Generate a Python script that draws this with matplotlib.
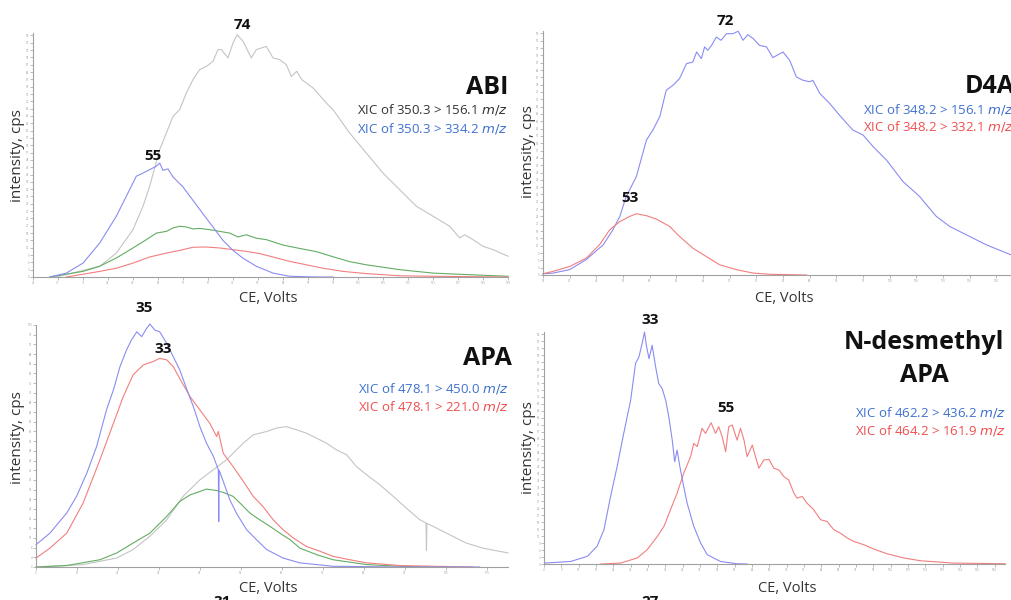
import numpy as np
import matplotlib
matplotlib.use("Agg")
import matplotlib.pyplot as plt

plt.rcParams['font.family'] = ['Open Sans', 'DejaVu Sans']

W, H = 1011, 600

# ---------------- data (CE in V, intensity in % of panel full scale) ----------
# Panel ABI
abi_grey_x = [30.6, 41, 45, 49, 51.4, 53, 55.4, 57, 58.6, 60.2, 61.8, 63.4, 65, 66.6, 68.2, 69.4, 70.2,
              71.8, 73, 74, 75.4, 77.4, 78.6, 81, 82.6, 84.2, 85.8, 87, 88.3, 89.5, 92.2, 95.4, 97, 101,
              105, 109, 113, 117, 121, 125, 127.4, 128.6, 130.6, 133, 135.4, 139]
abi_grey_y = [0, 4.4, 9.8, 19.4, 29, 37.2, 52.2, 59, 65.8, 68.6, 75.4, 80.9, 85, 86.3, 88.4, 93.2, 93.2,
              89.8, 95.9, 99.3, 96.6, 89.8, 93.2, 94.5, 89.8, 89.1, 87, 82.2, 84.3, 80.9, 77.5, 71.3, 68.6,
              59, 50.8, 42.6, 35.8, 29, 24.9, 20.8, 16, 17.3, 15.3, 12.6, 11.2, 8.5]
abi_blue_x = [29, 33, 37, 41, 45, 47.4, 49.8, 51.4, 53, 54.6, 55.4, 56.2, 57.4, 58.6, 61, 63.4, 65.8,
              68.2, 70.6, 73, 75.4, 78.6, 82.6, 86.6, 93, 97]
abi_blue_y = [0, 1.6, 5.7, 13.9, 24.9, 33.1, 41.3, 42.6, 44, 45.4, 46.7, 43.7, 44.3, 41, 36.9, 31.4, 25.9,
              20.5, 15, 10.9, 7.7, 4.4, 1.6, 0.3, 0, 0]
abi_green_x = [29, 37, 41, 45, 49, 52.2, 54.6, 57, 58.6, 60.2, 61.8, 63.4, 65, 67.4, 69.8, 72.2, 74.2,
               76.2, 78.6, 81, 85, 89, 93, 97, 101, 105, 113, 121, 129, 139]
abi_green_y = [0, 2.3, 4.4, 7.8, 11.9, 15.3, 18, 18.7, 20.1, 20.8, 20.5, 19.7, 19.9, 19.4, 18.7, 18, 16.4,
               17.3, 15.9, 15.3, 13.1, 11.7, 10.4, 8.3, 6.3, 5, 3, 1.6, 1, 0.3]
abi_red_x = [33, 41, 45, 49, 53, 57, 60.2, 63.4, 66.6, 69.8, 73, 76.2, 79.4, 82.6, 86.6, 90.6, 94.6,
             99.4, 105, 113, 121, 139]
abi_red_y = [0, 2.3, 3.6, 5.7, 8.2, 9.8, 10.9, 12.2, 12.3, 11.9, 11.2, 10.5, 9.6, 8.2, 6.4, 5, 3.6,
             2.3, 1.4, 0.5, 0.3, 0]

# Panel D4A
d4a_blue_x = [35.5, 37.4, 40.5, 43.6, 46.8, 48.6, 49.9, 51.1, 53, 54.9, 56.1, 57.4, 58.6, 59.9, 61.1,
              62.4, 63.6, 64.3, 65.2, 65.8, 66.4, 67.1, 68, 68.9, 69.9, 71.1, 72.1, 73, 73.9, 74.9, 76.1,
              77.4, 78.6, 80.5, 81.75, 83, 84.25, 85.5, 86.1, 87.4, 89.25, 91.1, 93.6, 95.5, 97.4, 99.9,
              103, 106.1, 109.25, 111.75, 115.5, 118.6, 123.2, 124]
d4a_blue_y = [0.5, 0.8, 2.2, 6.3, 12.4, 18.5, 24, 32.2, 40.3, 55.3, 59.4, 64.9, 75.7, 77.8, 80.5,
              86.6, 87.3, 91.4, 88.7, 93.5, 92.1, 94.1, 97.5, 96.2, 98.9, 98.9, 99.9, 96.2, 98.5, 96.9, 94.1,
              93.5, 89.1, 91.4, 88, 81.2, 79.8, 79.2, 79.8, 74.4, 70.3, 65.5, 59.4, 57.4, 52.6, 47.1,
              38.3, 32.2, 24, 19.9, 15.8, 12.4, 8.3, 7.8]
d4a_red_x = [35.5, 37.4, 40.5, 43.6, 46.1, 48, 49.9, 51.75, 53, 54.9, 56.75, 59.25, 61.1, 63.6, 66.1,
             68.6, 71.75, 74.9, 78, 84.9]
d4a_red_y = [0.5, 1.5, 3.5, 6.9, 12.4, 18.5, 21.9, 24, 25.1, 24.3, 22.9, 19.9, 15.8, 11, 7.6,
             4.2, 2.2, 0.8, 0.3, 0]

# Panel APA
apa_blue_x = [5, 8.4, 12.5, 14.9, 17.4, 19.8, 22.2, 23.9, 25.5, 27.1, 28.3, 29.6, 30.8, 32, 32.8, 34,
              35.2, 36.9, 38.5, 40.1, 41.7, 43.4, 45, 46.6, 48.3, 49.5, 49.6, 49.7, 50.7, 52.3, 53.9,
              56.4, 58.8, 61.3, 65.3, 69.4, 77.5, 93.8, 113.3]
apa_blue_y = [9.2, 14, 22.3, 29.2, 38.8, 49.8, 64.9, 73.2, 82.8, 89.7, 93.8, 97.2, 95.2, 98.6, 100.4,
              97.9, 97.2, 92.4, 86.9, 81.4, 73.9, 66.3, 58, 51.2, 45.7, 40.2, 18.8, 40.0, 35.4, 27.8,
              22.3, 15.4, 11.3, 7.2, 3.7, 1.7, 0.3, 0, 0]
apa_red_x = [5, 8.4, 12.5, 16.5, 20.6, 23.9, 26.3, 28.7, 31.2, 33.6, 35.2, 36.9, 38.5, 40.5, 42.6, 45,
             47.4, 49.1, 49.5, 50.7, 53.1, 55.6, 58, 60.4, 62.9, 65.3, 67.8, 71, 74.3, 77.5, 81.6,
             85.7, 93.8, 101.9, 111.7]
apa_red_y = [3.7, 7.8, 14, 26.4, 44.3, 59.4, 70.4, 79.4, 83.5, 84.9, 86.2, 85.6, 82.8, 76.6, 70.4,
             64.9, 59.4, 53.9, 56, 47, 41.5, 35.4, 29.2, 25, 19.5, 15.4, 12, 8.5, 6.5, 4.4, 3, 1.7,
             0.6, 0.3, 0]
apa_green_x = [5, 12.5, 20.6, 24.7, 28.7, 32.8, 36.9, 40.1, 42.6, 45, 46.6, 49.1, 50.7, 53.1, 54.8,
               57.2, 59.6, 62.1, 64.5, 67, 69.4, 73.5, 77.5, 85.7, 93.8, 101.9]
apa_green_y = [0, 0.6, 3, 5.8, 9.9, 14, 20.9, 27.1, 29.8, 31.2, 32.2, 31.6, 30.8, 29.2, 26.4, 22.3,
               19.5, 16.8, 14, 11.3, 7.8, 5.1, 3, 1, 0.3, 0]
apa_grey_x = [5, 16.5, 24.7, 28.7, 32.8, 36.9, 40.9, 45, 48.3, 51.5, 53.1, 55.6, 58, 61.3, 63.7, 66.1,
              68.6, 71, 73.5, 75.9, 78.3, 80.8, 83.2, 85.7, 88.9, 92.2, 95.4, 98.7, 100.2, 100.3,
              100.4, 101.9, 106, 110, 114.1, 120.2]
apa_grey_y = [0, 1, 3.7, 7.2, 12.7, 19.5, 29.2, 36, 40.2, 44.3, 47, 51.2, 54.6, 56, 57.4, 58, 56.7,
              55.3, 53.2, 51.2, 48.4, 46.4, 41.5, 38.1, 34, 29.2, 24.3, 19.5, 18.2, 6.9, 18.0, 16.8,
              13.3, 9.9, 7.8, 5.8]

# Panel N-desmethyl APA
nd_blue_x = [4.2, 11.7, 16.5, 19.3, 21.3, 23.2, 25.1, 27, 29, 30.4, 31.4, 32.3, 33, 33.6, 34.3, 35.2,
             36.2, 37.1, 38.1, 39.1, 40, 41, 41.7, 42.4, 43.2, 44.3, 45.3, 47.2, 49.2, 51.1, 54.9,
             59.7, 62.6]
nd_blue_y = [0.4, 1.1, 3.3, 7.6, 14.8, 29.1, 42, 56.3, 70.6, 86.4, 89.3, 95, 100, 93.6, 88.5, 94.3,
             85, 77.8, 75.6, 70.6, 63.5, 53.4, 44.1, 49.1, 42, 33.4, 26.2, 16.3, 9, 4, 1.1, 0.1, 0]
nd_red_x = [20.3, 26.1, 30.9, 33.8, 36.7, 38.6, 40.5, 42.4, 44.3, 46.3, 47.2, 48.2, 49.6, 50.6, 52.2,
            53.5, 54.4, 55.4, 56.4, 57.3, 58.3, 59.7, 60.7, 61.7, 62.6, 64.1, 65, 66, 67.4, 68.9,
            70.3, 71.8, 73.2, 74.6, 76.1, 77, 78.5, 79.9, 81.8, 83.8, 85.7, 87.6, 89.5, 91.5, 93.4,
            96.3, 99.2, 103, 107.8, 112.6, 122.2, 137]
nd_red_y = [0, 0.4, 2.6, 6.2, 11.9, 16.2, 23.4, 30.5, 39.1, 46.3, 52, 50.6, 58.5, 56.3, 60.9, 56.3,
            59.2, 54.9, 48.4, 59.2, 59.9, 53.4, 58.5, 53.4, 46.3, 51.3, 46.3, 41.3, 44.8, 45.1, 41.3,
            40.5, 37.7, 36.2, 30.5, 28.4, 29.1, 26.2, 23.4, 19.1, 18.3, 14.8, 13.3, 11.2, 9.7, 8.3,
            6.4, 4.4, 2.6, 1.4, 0.4, 0.1]

panel_names = ["ABI", "D4A", "APA", "N-desmethyl\nAPA"]
abi_xic = ["XIC of 350.3 > 156.1 ", "XIC of 350.3 > 334.2 "]
d4a_xic = ["XIC of 348.2 > 156.1 ", "XIC of 348.2 > 332.1 "]
apa_xic = ["XIC of 478.1 > 450.0 ", "XIC of 478.1 > 221.0 "]
nd_xic = ["XIC of 462.2 > 436.2 ", "XIC of 464.2 > 161.9 "]
abi_peaks = ["74", "55"]
d4a_peaks = ["72", "53"]
apa_peaks = ["35", "33"]
nd_peaks = ["33", "55"]

# ---------------- styling ----------------
C_BLUE = '#8a8cf2'
C_RED = '#f27e7e'
C_GREEN = '#63ad63'
C_GREY = '#c4c4c4'
T_BLUE = '#3f70d0'
T_RED = '#f04f4f'
T_DARK = '#333333'

fig = plt.figure(figsize=(W / 100, H / 100), dpi=100)


def px_axes(l, t, r, b):
    return fig.add_axes([l / W, 1 - b / H, (r - l) / W, (b - t) / H])


def fx(x):
    return x / W


def fy(y):
    return 1 - y / H


def style(ax, xlim, xstep, ystep):
    ax.set_xlim(*xlim)
    ax.set_ylim(0, 100)
    for s in ('top', 'right'):
        ax.spines[s].set_visible(False)
    for s in ('left', 'bottom'):
        ax.spines[s].set_color('#a0a0a0')
        ax.spines[s].set_linewidth(0.8)
    ax.set_xticks(np.arange(xlim[0], xlim[1] + 0.01, xstep))
    ax.set_yticks(np.arange(0, 100.01, ystep))
    ax.xaxis.set_major_formatter(matplotlib.ticker.FuncFormatter(lambda v, p: f"{v:.0f}"))
    ax.yaxis.set_major_formatter(matplotlib.ticker.FuncFormatter(lambda v, p: f"{v:.0f}"))
    ax.tick_params(length=2, width=0.5, color='#a0a0a0', labelsize=2, labelcolor='#9a9a9a', pad=0.8)
    ax.set_facecolor('none')


def line(ax, x, y, c):
    ax.plot(x, y, color=c, lw=0.8, clip_on=False, solid_joinstyle='round')


def peak(ax, x, y, s):
    ax.text(x, y, s, ha='center', va='center', fontsize=11, fontweight='bold', color='#111111',
            clip_on=False)


def axis_labels(xl, yl):
    fig.text(fx(xl[0]), fy(xl[1]), "CE, Volts", ha='center', va='center', fontsize=10.5, color='#333333')
    fig.text(fx(yl[0]), fy(yl[1]), "intensity, cps", ha='center', va='center', rotation=90,
             fontsize=11, color='#333333')


def xic(x, y, s, c, ha):
    fig.text(fx(x), fy(y), s + r"$\it{m/z}$", ha=ha, va='baseline', fontsize=9.5, color=c)


# Panel 1 : ABI
ax1 = px_axes(33, 33, 508, 277)
style(ax1, (25, 139), 6, 3)
line(ax1, abi_grey_x, abi_grey_y, C_GREY)
line(ax1, abi_green_x, abi_green_y, C_GREEN)
line(ax1, abi_red_x, abi_red_y, C_RED)
line(ax1, abi_blue_x, abi_blue_y, C_BLUE)
peak(ax1, 75.2, 103.4, abi_peaks[0])
peak(ax1, 53.8, 49.5, abi_peaks[1])
fig.text(fx(508), fy(94), panel_names[0], ha='right', va='baseline', fontsize=18, fontweight='bold', color='#111111')
xic(508, 114, abi_xic[0], T_DARK, 'right')
xic(508, 133, abi_xic[1], T_BLUE, 'right')
axis_labels((268, 299), (18, 156))

# Panel 2 : D4A
ax2 = px_axes(543, 31, 1015, 275)
style(ax2, (35.5, 124), 5, 3)
line(ax2, d4a_blue_x, d4a_blue_y, C_BLUE)
line(ax2, d4a_red_x, d4a_red_y, C_RED)
peak(ax2, 69.7, 104, d4a_peaks[0])
peak(ax2, 51.9, 31.7, d4a_peaks[1])
fig.text(fx(965), fy(93), panel_names[1], ha='left', va='baseline', fontsize=18, fontweight='bold', color='#111111')
xic(863, 114, d4a_xic[0], T_BLUE, 'left')
xic(863, 131, d4a_xic[1], T_RED, 'left')
axis_labels((784, 299), (528, 152))

# Panel 3 : APA
ax3 = px_axes(36, 325, 508, 567)
style(ax3, (5, 120.2), 10, 4)
line(ax3, apa_grey_x, apa_grey_y, C_GREY)
line(ax3, apa_green_x, apa_green_y, C_GREEN)
line(ax3, apa_red_x, apa_red_y, C_RED)
line(ax3, apa_blue_x, apa_blue_y, C_BLUE)
peak(ax3, 31.3, 107, apa_peaks[0])
peak(ax3, 36, 90.1, apa_peaks[1])
fig.text(fx(512), fy(365), panel_names[2], ha='right', va='baseline', fontsize=18, fontweight='bold', color='#111111')
xic(509, 392, apa_xic[0], T_BLUE, 'right')
xic(509, 410, apa_xic[1], T_RED, 'right')
axis_labels((268, 589), (18, 438))

# Panel 4 : N-desmethyl APA
ax4 = px_axes(544, 332, 1005, 564)
style(ax4, (4, 137), 5, 3)
line(ax4, nd_red_x, nd_red_y, C_RED)
line(ax4, nd_blue_x, nd_blue_y, C_BLUE)
peak(ax4, 34.7, 105, nd_peaks[0])
peak(ax4, 56.4, 67.3, nd_peaks[1])
name1, name2 = panel_names[3].split("\n")
fig.text(fx(924), fy(349), name1, ha='center', va='baseline', fontsize=18, fontweight='bold', color='#111111')
fig.text(fx(924), fy(382), name2, ha='center', va='baseline', fontsize=18, fontweight='bold', color='#111111')
xic(1006, 416, nd_xic[0], T_BLUE, 'right')
xic(1006, 435, nd_xic[1], T_RED, 'right')
axis_labels((787, 589), (528, 448))

# cut-off labels of the panels below (only their tops are visible)
fig.text(fx(222), fy(595.5), "31", ha='center', va='top', fontsize=11, fontweight='bold', color='#111111')
fig.text(fx(650), fy(595.5), "27", ha='center', va='top', fontsize=11, fontweight='bold', color='#111111')

fig.savefig("out.png", dpi=100)
